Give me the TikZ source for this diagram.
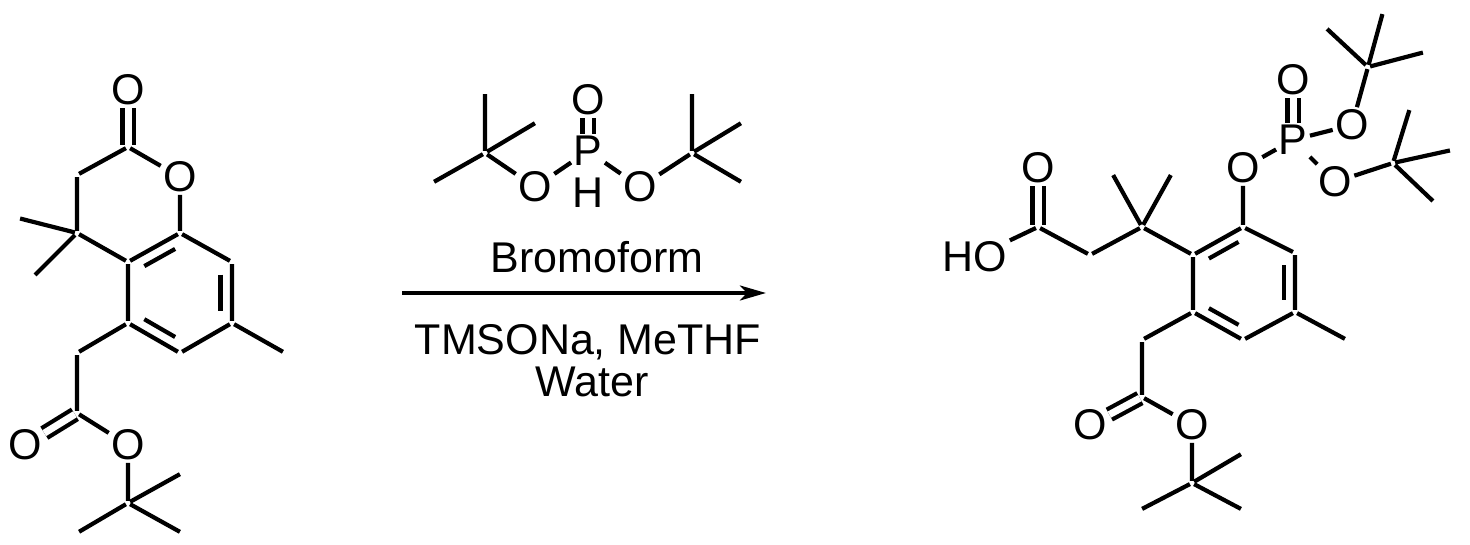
\documentclass[tikz,border=0pt]{standalone}
\usepackage{fontspec}
\setmainfont{Liberation Sans}
\usetikzlibrary{calc,arrows.meta}
\begin{document}
\begin{tikzpicture}[x=1pt,y=-1pt,line width=4.2pt,
  atm/.style={inner sep=0.5pt,font=\fontsize{43}{43}\selectfont},
  cc/.style={inner sep=0pt,minimum size=0pt},
  dbl/.style={double,double distance=7pt,line width=4.2pt},
  lbl/.style={font=\fontsize{43}{46}\selectfont,inner sep=0pt}]
\useasboundingbox (0,0) rectangle (1470,545);
% ---------- left molecule ----------
\node[cc] (L2) at (128,147) {};
\node[atm] (LO2) at (128,90) {O};
\node[atm] (LO1) at (180,177) {O};
\node[cc] (L8a) at (180,233) {};
\node[cc] (L4a) at (128,262) {};
\node[cc] (L4) at (77,233) {};
\node[cc] (L3) at (77,175) {};
\node[cc] (Lm1) at (18,218) {};
\node[cc] (Lm2) at (33,277) {};
\node[cc] (L8) at (232,262) {};
\node[cc] (L7) at (232,323) {};
\node[cc] (Lm3) at (285,353) {};
\node[cc] (L6) at (180,353) {};
\node[cc] (L5) at (128,323) {};
\coordinate (Lc) at (180,293);
\node[cc] (LCH2) at (77,353) {};
\node[cc] (LE) at (77,413) {};
\node[atm] (LEO1) at (25,445) {O};
\node[atm] (LEO2) at (128,445) {O};
\node[cc] (LT) at (128,503) {};
\node[cc] (LT1) at (182,473) {};
\node[cc] (LT2) at (182,533) {};
\node[cc] (LT3) at (77,533) {};
\draw (L2) -- (LO1) -- (L8a) -- (L4a) -- (L4) -- (L3) -- (L2);
\draw (L4) -- (Lm1) (L4) -- (Lm2);
\draw (L8a) -- (L8) -- (L7) -- (L6) -- (L5) -- (L4a);
\draw (L7) -- (Lm3) (L5) -- (LCH2) -- (LE) -- (LEO2) -- (LT);
\draw (LT) -- (LT1) (LT) -- (LT2) (LT) -- (LT3);
\draw[dbl] (L2) -- (LO2);
\draw[dbl] (LE) -- (LEO1);
\draw ($(Lc)!0.78!($(L8a)!0.12!(L4a)$)$) -- ($(Lc)!0.78!($(L8a)!0.88!(L4a)$)$);
\draw ($(Lc)!0.78!($(L8)!0.12!(L7)$)$) -- ($(Lc)!0.78!($(L8)!0.88!(L7)$)$);
\draw ($(Lc)!0.78!($(L6)!0.12!(L5)$)$) -- ($(Lc)!0.78!($(L6)!0.88!(L5)$)$);
% ---------- reagent ----------
\node[atm] (RP) at (588,151) {P};
\node[atm] (RPO) at (588,100) {O};
\node[atm,inner sep=0pt] (RH) at (588,193) {H};
\node[atm] (ROL) at (535,187) {O};
\node[atm] (ROR) at (640,187) {O};
\node[cc] (RTL) at (485,153) {};
\node[cc] (RTL1) at (485,92) {};
\node[cc] (RTL2) at (537,122) {};
\node[cc] (RTL3) at (432,183) {};
\node[cc] (RTR) at (692,153) {};
\node[cc] (RTR1) at (692,92) {};
\node[cc] (RTR2) at (743,122) {};
\node[cc] (RTR3) at (743,183) {};
\draw (RP) -- (ROL) -- (RTL) (RP) -- (ROR) -- (RTR);
\draw (RTL) -- (RTL1) (RTL) -- (RTL2) (RTL) -- (RTL3);
\draw (RTR) -- (RTR1) (RTR) -- (RTR2) (RTR) -- (RTR3);
\draw[dbl] (RP) -- (RPO);
\node[lbl] (t1) at (597,257) {Bromoform};
\node[cc] (A1) at (400,293) {};
\node[cc] (A2) at (768,293) {};
\draw[line width=3.2pt,-{Stealth[length=26pt,width=15pt,inset=7pt]}] (A1) -- (A2);
\node[lbl] (t2) at (588,342) {TMSONa, MeTHF};
\node[lbl] (t3) at (592,382) {Water};
% ---------- right molecule ----------
\node[atm] (HO) at (975,257) {HO};
\node[cc] (PA) at (1038,227) {};
\node[atm] (PAO) at (1038,168) {O};
\node[cc] (PCH2a) at (1090,255) {};
\node[cc] (PQ) at (1142,227) {};
\node[cc] (PQ1) at (1112,173) {};
\node[cc] (PQ2) at (1172,173) {};
\node[cc] (P1) at (1193,255) {};
\node[cc] (P2) at (1243,227) {};
\node[atm] (PO) at (1243,168) {O};
\node[atm] (PP) at (1293,140) {P};
\node[atm] (PPO) at (1293,80) {O};
\node[atm] (PO1) at (1352,125) {O};
\node[cc] (PT1) at (1368,67) {};
\node[cc] (PT1a) at (1325,27) {};
\node[cc] (PT1b) at (1383,12) {};
\node[cc] (PT1c) at (1425,52) {};
\node[atm] (PO2) at (1335,182) {O};
\node[cc] (PT2) at (1393,163) {};
\node[cc] (PT2a) at (1410,108) {};
\node[cc] (PT2b) at (1452,150) {};
\node[cc] (PT2c) at (1435,203) {};
\node[cc] (P3) at (1295,253) {};
\node[cc] (P4) at (1295,312) {};
\node[cc] (Pm) at (1347,340) {};
\node[cc] (P5) at (1243,340) {};
\node[cc] (P6) at (1193,312) {};
\coordinate (Pc) at (1244,283);
\node[cc] (PCH2) at (1142,340) {};
\node[cc] (PE) at (1142,397) {};
\node[atm] (PEO1) at (1090,425) {O};
\node[atm] (PEO2) at (1192,425) {O};
\node[cc] (PT) at (1192,483) {};
\node[cc] (PTa) at (1243,453) {};
\node[cc] (PTb) at (1243,510) {};
\node[cc] (PTc) at (1140,510) {};
\draw (HO) -- (PA) -- (PCH2a) -- (PQ) -- (P1);
\draw (PQ) -- (PQ1) (PQ) -- (PQ2);
\draw[dbl] (PA) -- (PAO);
\draw (P1) -- (P2) -- (P3) -- (P4) -- (P5) -- (P6) -- (P1);
\draw (P2) -- (PO) -- (PP) -- (PO1) -- (PT1) (PP) -- (PO2) -- (PT2);
\draw[dbl] (PP) -- (PPO);
\draw (PT1) -- (PT1a) (PT1) -- (PT1b) (PT1) -- (PT1c);
\draw (PT2) -- (PT2a) (PT2) -- (PT2b) (PT2) -- (PT2c);
\draw (P4) -- (Pm) (P6) -- (PCH2) -- (PE) -- (PEO2) -- (PT);
\draw[dbl] (PE) -- (PEO1);
\draw (PT) -- (PTa) (PT) -- (PTb) (PT) -- (PTc);
\draw ($(Pc)!0.78!($(P1)!0.12!(P2)$)$) -- ($(Pc)!0.78!($(P1)!0.88!(P2)$)$);
\draw ($(Pc)!0.78!($(P3)!0.12!(P4)$)$) -- ($(Pc)!0.78!($(P3)!0.88!(P4)$)$);
\draw ($(Pc)!0.78!($(P5)!0.12!(P6)$)$) -- ($(Pc)!0.78!($(P5)!0.88!(P6)$)$);
\end{tikzpicture}
\end{document}
